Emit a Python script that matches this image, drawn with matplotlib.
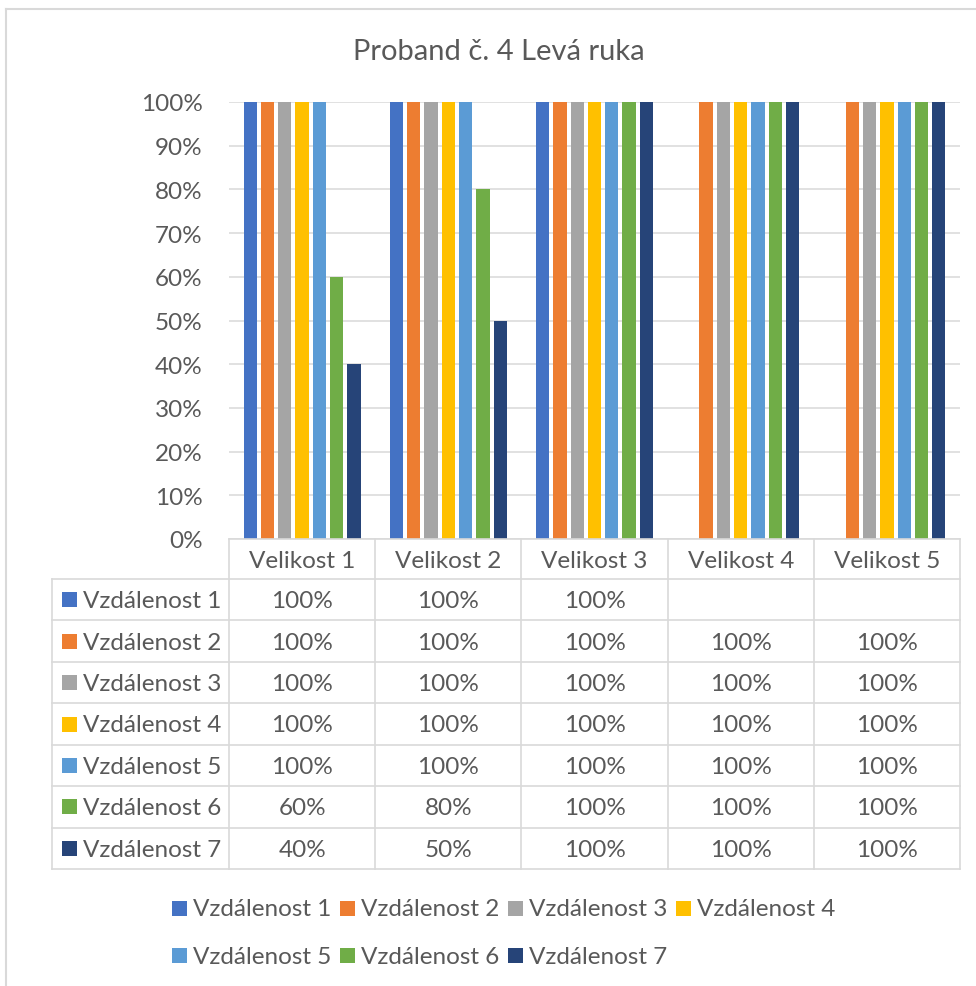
import matplotlib
matplotlib.use("Agg")
import matplotlib.pyplot as plt
from matplotlib.patches import Rectangle

plt.rcParams['font.family'] = ['Lato', 'DejaVu Sans']

# --- data ---
title = "Proband č. 4 Levá ruka"
categories = ["Velikost 1", "Velikost 2", "Velikost 3", "Velikost 4", "Velikost 5"]
series_names = ["Vzdálenost 1", "Vzdálenost 2", "Vzdálenost 3", "Vzdálenost 4",
                "Vzdálenost 5", "Vzdálenost 6", "Vzdálenost 7"]
vzd1 = [1.0, 1.0, 1.0, None, None]
vzd2 = [1.0, 1.0, 1.0, 1.0, 1.0]
vzd3 = [1.0, 1.0, 1.0, 1.0, 1.0]
vzd4 = [1.0, 1.0, 1.0, 1.0, 1.0]
vzd5 = [1.0, 1.0, 1.0, 1.0, 1.0]
vzd6 = [0.6, 0.8, 1.0, 1.0, 1.0]
vzd7 = [0.4, 0.5, 1.0, 1.0, 1.0]
series_values = [vzd1, vzd2, vzd3, vzd4, vzd5, vzd6, vzd7]
colors = ["#4472C4", "#ED7D31", "#A5A5A5", "#FFC000", "#5B9BD5", "#70AD47", "#264478"]
yticks = [0, .1, .2, .3, .4, .5, .6, .7, .8, .9, 1.0]

TXT = "#595959"
GRID = "#D9D9D9"
W, H = 976, 987

fig = plt.figure(figsize=(W / 100, H / 100), dpi=100)

# plot area
pl, pr, pt, pb = 229, 960, 103, 540
ax = fig.add_axes([pl / W, 1 - pb / H, (pr - pl) / W, (pb - pt) / H])
pitch = 0.1183
bw = 0.091
for i, (vals, col) in enumerate(zip(series_values, colors)):
    off = (i - 3) * pitch
    xs = [c + off for c, v in enumerate(vals) if v is not None]
    hs = [v for v in vals if v is not None]
    ax.bar(xs, hs, width=bw, color=col, zorder=3)
ax.set_xlim(-0.5, len(categories) - 0.5)
ax.set_ylim(0, 1)
ax.set_yticks(yticks)
ax.set_yticklabels([f"{int(round(t * 100))}%" for t in yticks])
ax.tick_params(axis='y', length=0, labelsize=17.5, labelcolor=TXT, pad=19)
ax.set_xticks([])
ax.yaxis.grid(True, color=GRID, linewidth=1.1, zorder=0)
for s in ax.spines.values():
    s.set_visible(False)

# overlay in pixel coordinates for frame, table, legend
ov = fig.add_axes([0, 0, 1, 1], zorder=-1)
ov.set_xlim(0, W)
ov.set_ylim(H, 0)
ov.axis('off')
ov2 = fig.add_axes([0, 0, 1, 1])
ov2.set_xlim(0, W)
ov2.set_ylim(H, 0)
ov2.axis('off')

# chart frame
ov.plot([6, 6], [10, H + 5], color=GRID, lw=1.5)
ov.plot([6, W + 5], [10, 10], color=GRID, lw=1.5)

fig.text(499 / W, 1 - 52 / H, title, ha='center', va='center', fontsize=21, color=TXT)

# data table
tl = 52
col_w = (pr - pl) / len(categories)
head_top, head_bot = 540, 580
row_h = (870 - head_bot) / len(series_names)
tbot = head_bot + row_h * len(series_names)
lw_t = 1.2
# horizontal lines
ov2.plot([pl, pr], [head_top, head_top], color=GRID, lw=lw_t)
for r in range(len(series_names) + 1):
    y = head_bot + r * row_h
    ov2.plot([tl, pr], [y, y], color=GRID, lw=lw_t)
# vertical lines
ov2.plot([tl, tl], [head_bot, tbot], color=GRID, lw=lw_t)
for c in range(len(categories) + 1):
    x = pl + c * col_w
    ov2.plot([x, x], [head_top, tbot], color=GRID, lw=lw_t)
# header
for c, name in enumerate(categories):
    ov2.text(pl + (c + 0.5) * col_w, (head_top + head_bot) / 2 + 1, name,
             ha='center', va='center', fontsize=17.5, color=TXT)
# rows
for r, (name, vals, col) in enumerate(zip(series_names, series_values, colors)):
    yc = head_bot + (r + 0.5) * row_h
    ov2.add_patch(Rectangle((62, yc - 7.5), 15, 15, facecolor=col, edgecolor='none'))
    ov2.text(83, yc + 1, name, ha='left', va='center', fontsize=17.5, color=TXT)
    for c, v in enumerate(vals):
        if v is None:
            continue
        ov2.text(pl + (c + 0.5) * col_w, yc + 1, f"{int(round(v * 100))}%",
                 ha='center', va='center', fontsize=17.5, color=TXT)

# legend
leg_x0, leg_pitch = 172, 168
leg_rows = [909, 956]
for i, (name, col) in enumerate(zip(series_names, colors)):
    x = leg_x0 + (i % 4) * leg_pitch
    y = leg_rows[i // 4]
    ov2.add_patch(Rectangle((x, y - 7.5), 15, 15, facecolor=col, edgecolor='none'))
    ov2.text(x + 21, y + 1, name, ha='left', va='center', fontsize=17.5, color=TXT)

fig.savefig("out.png", dpi=100)
